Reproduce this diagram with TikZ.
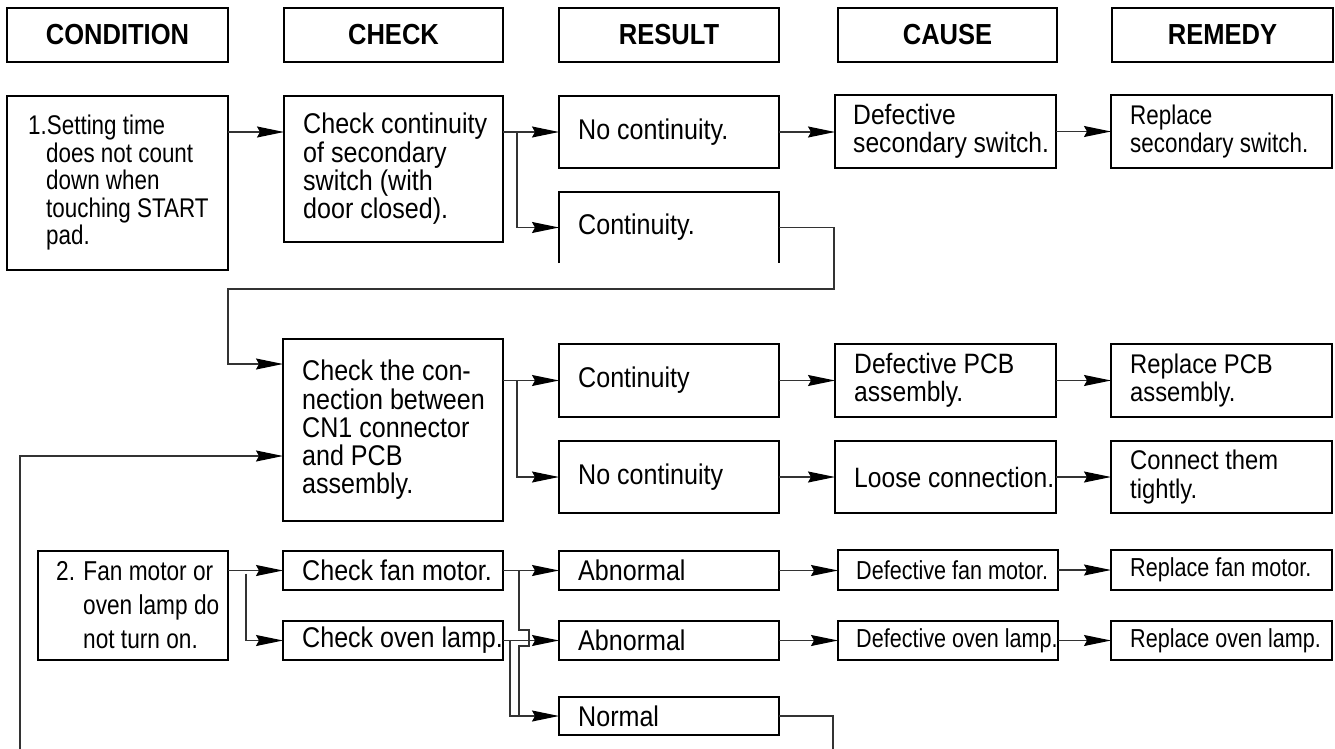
\documentclass[tikz,border=0pt]{standalone}
\usepackage{fontspec}
\setmainfont{Liberation Sans}[FakeStretch=0.88]
\newfontfamily\narrowfam{Liberation Sans}[FakeStretch=0.83]
\usetikzlibrary{arrows.meta,calc}
\newcommand\hdrfont{\fontsize{29}{30}\selectfont\bfseries}
\newcommand\bodyfont{\fontsize{28.5}{28.3}\selectfont}
\newcommand\causefont{\fontsize{28}{28.3}\selectfont}
\newcommand\remfont{\fontsize{27}{28.3}\selectfont}
\newcommand\remnarrowfont{\narrowfam\fontsize{27}{28.3}\selectfont}
\newcommand\condafont{\narrowfam\fontsize{27}{27.5}\selectfont}
\newcommand\condbfont{\narrowfam\fontsize{27.3}{34}\selectfont}
\newcommand\smallfont{\narrowfam\fontsize{26}{26}\selectfont}
\begin{document}
\begin{tikzpicture}[x=1pt,y=-1pt,
  frame/.style={draw=black, line width=1.3pt, anchor=north west, inner sep=0pt, outer sep=0pt},
  hdr/.style={frame, font=\hdrfont},
  txt/.style={anchor=west, align=left, inner sep=0pt, font=\bodyfont},
  conn/.style={draw=black!80, line width=1.2pt},
  arr/.style={conn, -{Stealth[length=27pt,width=11pt,inset=3pt,black]}}
]
\useasboundingbox (0,0) rectangle (1335,749);
\fill[white] (0,0) rectangle (1335,749);

% headers
\node[hdr, minimum width=221pt, minimum height=54pt] (hCond) at (7,8) {CONDITION};
\node[hdr, minimum width=219pt, minimum height=54pt] (hCheck) at (284,8) {CHECK};
\node[hdr, minimum width=220pt, minimum height=54pt] (hResult) at (559,8) {RESULT};
\node[hdr, minimum width=219pt, minimum height=54pt] (hCause) at (838,8) {CAUSE};
\node[hdr, minimum width=221pt, minimum height=54pt] (hRemedy) at (1112,8) {REMEDY};

% row A
\node[frame, minimum width=221pt, minimum height=174pt] (cond1) at (7,96) {};
\node[txt, font=\condafont] (cond1t) at ([xshift=21pt]cond1.west)
  {1.Setting time\\\hspace*{18pt}does not count\\\hspace*{18pt}down when\\\hspace*{18pt}touching START\\\hspace*{18pt}pad.};
\node[frame, minimum width=219pt, minimum height=146pt] (check1) at (284,96) {};
\node[txt] (check1t) at ([xshift=19pt]check1.west) {Check continuity\\of secondary\\switch (with\\door closed).};
\node[frame, minimum width=220pt, minimum height=72pt] (noCont) at (559,96) {};
\node[txt] (noContt) at ([xshift=19pt]noCont.west) {No continuity.};
\node[frame, draw=none, minimum width=220pt, minimum height=71pt] (cont) at (559,192) {};
\draw[line width=1.3pt] (cont.south west) -- (cont.north west) -- (cont.north east) -- (cont.south east);
\node[txt] (contt) at ([xshift=19pt]cont.west) {Continuity.};
\node[frame, minimum width=221pt, minimum height=73pt] (defSec) at (835,95) {};
\node[txt, font=\causefont] (defSect) at ([xshift=18pt]defSec.west) {Defective\\secondary switch.};
\node[frame, minimum width=221pt, minimum height=73pt] (repSec) at (1111,95) {};
\node[txt, font=\remnarrowfont] (repSect) at ([xshift=19pt]repSec.west) {Replace\\secondary switch.};

% row B
\node[frame, minimum width=220pt, minimum height=182pt] (check2) at (283,339) {};
\node[txt] (check2t) at ([xshift=19pt]check2.west) {Check the con-\\nection between\\CN1 connector\\and PCB\\assembly.};
\node[frame, minimum width=220pt, minimum height=73pt] (contB) at (559,344) {};
\node[txt] (contBt) at ([xshift=19pt]contB.west) {Continuity};
\node[frame, minimum width=220pt, minimum height=72pt] (noContB) at (559,441) {};
\node[txt] (noContBt) at ([xshift=19pt]noContB.west) {No continuity};
\node[frame, minimum width=221pt, minimum height=73pt] (defPCB) at (835,344) {};
\node[txt, font=\causefont] (defPCBt) at ([xshift=19pt]defPCB.west) {Defective PCB\\assembly.};
\node[frame, minimum width=221pt, minimum height=72pt] (loose) at (835,441) {};
\node[txt, font=\causefont] (looset) at ([xshift=19pt]loose.west) {Loose connection.};
\node[frame, minimum width=221pt, minimum height=73pt] (repPCB) at (1111,344) {};
\node[txt, font=\remfont] (repPCBt) at ([xshift=19pt]repPCB.west) {Replace PCB\\assembly.};
\node[frame, minimum width=221pt, minimum height=72pt] (tight) at (1111,441) {};
\node[txt, font=\remfont] (tightt) at ([xshift=19pt]tight.west) {Connect them\\tightly.};

% row C
\node[frame, minimum width=190pt, minimum height=109pt] (cond2) at (38,551) {};
\node[txt, font=\condbfont] (cond2t) at ([xshift=18pt]cond2.west)
  {2. Fan motor or\\\hspace*{27pt}oven lamp do\\\hspace*{27pt}not turn on.};
\node[frame, minimum width=220pt, minimum height=39pt] (checkFan) at (283,551) {};
\node[txt] (checkFant) at ([xshift=19pt]checkFan.west) {Check fan motor.};
\node[frame, minimum width=220pt, minimum height=39pt] (checkOven) at (283,621) {};
\node[txt] (checkOvent) at ([xshift=19pt]checkOven.west) {Check oven lamp.};
\node[frame, minimum width=220pt, minimum height=39pt] (abn1) at (559,551) {};
\node[txt] (abn1t) at ([xshift=19pt]abn1.west) {Abnormal};
\node[frame, minimum width=220pt, minimum height=39pt] (abn2) at (559,621) {};
\node[txt] (abn2t) at ([xshift=19pt]abn2.west) {Abnormal};
\node[frame, minimum width=220pt, minimum height=38pt] (normal) at (559,697) {};
\node[txt] (normalt) at ([xshift=19pt]normal.west) {Normal};
\node[frame, minimum width=220pt, minimum height=40pt] (defFan) at (838,550) {};
\node[txt, font=\smallfont] (defFant) at ([xshift=18pt]defFan.west) {Defective fan motor.};
\node[frame, minimum width=220pt, minimum height=39pt] (defOven) at (838,621) {};
\node[txt, font=\smallfont] (defOvent) at ([xshift=18pt]defOven.west) {Defective oven lamp.};
\node[frame, minimum width=221pt, minimum height=40pt] (repFan) at (1111,550) {};
\node[txt, font=\smallfont] (repFant) at ([xshift=19pt]repFan.west) {Replace fan motor.};
\node[frame, minimum width=221pt, minimum height=39pt] (repOven) at (1111,621) {};
\node[txt, font=\smallfont] (repOvent) at ([xshift=19pt]repOven.west) {Replace oven lamp.};

\coordinate (yA) at (0,364);
\coordinate (yB) at (0,456);
\coordinate (bottomL) at (20,749);

% connectors row A
\draw[arr] (cond1.east |- noCont.west) -- (check1.west |- noCont.west);
\draw[arr] (check1.east |- noCont.west) -- (noCont.west);
\draw[arr] ($(check1.east |- noCont.west)+(14,0)$) |- (cont.west);
\draw[arr] (noCont.east) -- (defSec.west |- noCont.east);
\draw[arr] (defSec.east) -- (repSec.west);
\draw[arr] (cont.east) -- ++(55,0) |- (228,289) |- (check2.west |- yA);

% connectors row B
\draw[arr] (bottomL) |- (check2.west |- yB);
\draw[arr] (check2.east |- contB.west) -- (contB.west);
\draw[arr] ($(check2.east |- contB.west)+(14,0)$) |- (noContB.west);
\draw[arr] (contB.east) -- (defPCB.west);
\draw[arr] (defPCB.east) -- (repPCB.west);
\draw[arr] (noContB.east) -- (loose.west);
\draw[arr] (loose.east) -- (tight.west);

% connectors row C
\draw[arr] (cond2.east |- checkFan.west) -- (checkFan.west);
\draw[arr] ($(cond2.east |- checkFan.west)+(18,3)$) |- (checkOven.west);
\draw[arr] (checkFan.east) -- (abn1.west);
\draw[arr] (checkOven.east) -- (abn2.west);
\draw[arr] ($(checkOven.east)+(7,0)$) |- (normal.west);
\draw[conn] ($(checkFan.east)+(16,0)$) -- ++(0,59.5) -- ++(10,0) -- ++(0,16) -- ++(-10,0) -- ++(0,70);
\draw[arr] (abn1.east) -- (defFan.west |- abn1.east);
\draw[arr] (defFan.east |- repFan.west) -- (repFan.west);
\draw[arr] (abn2.east) -- (defOven.west |- abn2.east);
\draw[arr] (defOven.east) -- (repOven.west);
\draw[conn] (normal.east) -- ++(54,0) -- ++(0,33);
\end{tikzpicture}
\end{document}
